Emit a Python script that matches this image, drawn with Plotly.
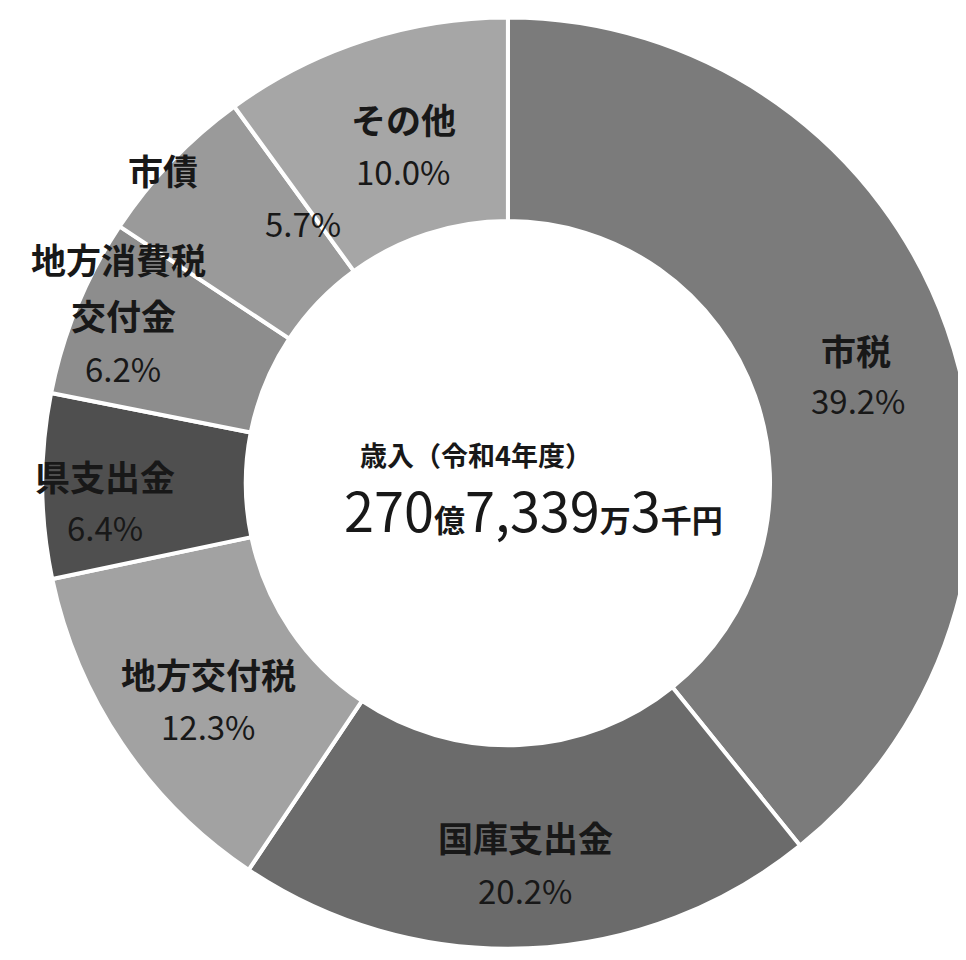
import plotly.graph_objects as go

categories = ["市税", "国庫支出金", "地方交付税", "県支出金", "地方消費税交付金", "市債", "その他"]
shares = [39.2, 20.2, 12.3, 6.4, 6.2, 5.7, 10.0]
label_lines = [["市税"], ["国庫支出金"], ["地方交付税"], ["県支出金"], ["地方消費税", "交付金"], ["市債"], ["その他"]]
colors = ["#7b7b7b", "#6b6b6b", "#a2a2a2", "#4f4f4f", "#8d8d8d", "#9a9a9a", "#a6a6a6"]

center_title = "歳入（令和4年度）"
center_amount = ("270", "億", "7,339", "万", "3", "千円")

W, H = 966, 960
FONT = "Noto Sans CJK JP"
TXT = "#181818"

fig = go.Figure(go.Pie(
    labels=categories,
    values=shares,
    sort=False,
    direction="clockwise",
    rotation=0,
    hole=0.563,
    marker=dict(colors=colors, line=dict(color="white", width=4)),
    textinfo="none",
    hoverinfo="label+percent",
    showlegend=False,
    domain=dict(x=[0.035, 1.0], y=[0.02, 0.99]),
))

def px(x, y):
    return x / W, 1 - y / H

# label positions (pixel centers): one per name line, then the percent
name_pos = [[(848, 342)], [(517, 828)], [(200, 665)], [(97, 467)], [(110, 250), (115, 306)], [(155, 162)], [(395, 110)]]
pct_pos = [(850, 392), (517, 882), (200, 718), (97, 519), (115, 360), (295, 215), (395, 163)]

annotations = []
for lines, val, npos, (qx, qy) in zip(label_lines, shares, name_pos, pct_pos):
    for line, (nx, ny) in zip(lines, npos):
        x, y = px(nx, ny)
        annotations.append(dict(x=x, y=y, xref="paper", yref="paper", text=f"<b>{line}</b>", showarrow=False,
                                font=dict(family=FONT, size=35, color=TXT), xanchor="center", yanchor="middle"))
    x, y = px(qx, qy)
    annotations.append(dict(x=x, y=y, xref="paper", yref="paper", text=f"{val:.1f}%", showarrow=False,
                            font=dict(family=FONT, size=33, color=TXT), xanchor="center", yanchor="middle"))

x, y = px(468, 447)
annotations.append(dict(x=x, y=y, xref="paper", yref="paper", text=f"<b>{center_title}</b>", showarrow=False,
                        font=dict(family=FONT, size=27, color=TXT), xanchor="center", yanchor="middle"))
big, small = 54, 31
amt = (f"{center_amount[0]}<span style='font-size:{small}px'><b>{center_amount[1]}</b></span>"
       f"{center_amount[2]}<span style='font-size:{small}px'><b>{center_amount[3]}</b></span>"
       f"{center_amount[4]}<span style='font-size:{small}px'><b>{center_amount[5]}</b></span>")
x, y = px(525, 500)
annotations.append(dict(x=x, y=y, xref="paper", yref="paper", text=amt, showarrow=False,
                        font=dict(family=FONT, size=big, color=TXT), xanchor="center", yanchor="middle"))

fig.update_layout(
    width=W, height=H,
    margin=dict(l=0, r=0, t=0, b=0),
    paper_bgcolor="white",
    plot_bgcolor="white",
    annotations=annotations,
)

fig.write_html("out.html")
